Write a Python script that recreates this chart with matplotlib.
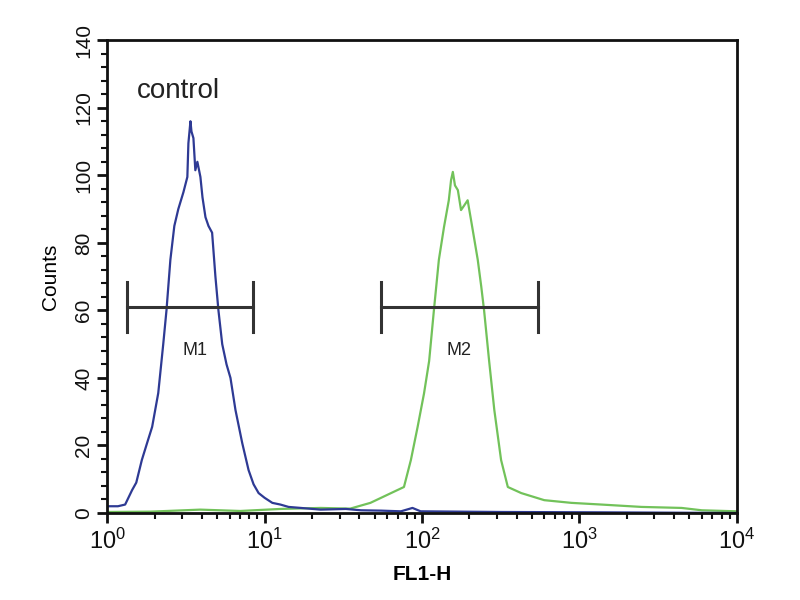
import matplotlib
matplotlib.use("Agg")
import matplotlib.pyplot as plt
from matplotlib.ticker import MultipleLocator, LogLocator, NullFormatter

plt.rcParams["font.family"] = ["Liberation Sans", "DejaVu Sans"]
plt.rcParams["mathtext.default"] = "regular"

# control histogram (blue), FL1-H value -> counts
blue_x = [1.0, 1.17, 1.30, 1.44, 1.53, 1.66, 1.80, 1.93, 2.11, 2.27, 2.38, 2.52,
          2.67, 2.83, 3.05, 3.23, 3.28, 3.38, 3.43, 3.53, 3.63, 3.74, 3.91, 4.03,
          4.21, 4.40, 4.64, 4.87, 5.09, 5.38, 5.73, 6.07, 6.53, 7.21, 7.91, 8.51,
          9.16, 10.0, 11.2, 12.6, 14.2, 17.0, 22.7, 32.8, 41.0, 55.0, 73.5, 87.0,
          98.0, 320.0, 1380.0, 10000.0]
blue_y = [2, 2, 2.5, 6.8, 9, 15.7, 21, 25.5, 35.5, 50, 60, 75,
          85, 90, 95, 99.5, 109.5, 116, 113, 111, 101.5, 104, 99.5, 93.5,
          87.6, 85, 83, 70, 60, 50, 44, 40, 30.5, 20.7, 12.7, 8.5,
          5.9, 4.5, 3, 2.5, 1.8, 1.5, 1.0, 1.2, 0.8, 0.7, 0.5, 1.5,
          0.5, 0.3, 0.2, 0]

# antibody histogram (green)
green_x = [1.0, 1.88, 3.9, 7.0, 12.6, 22.7, 35.0, 47.0, 63.6, 76.8, 85.0, 93.8,
           103, 111, 119, 128, 138, 148, 153, 157, 162, 169, 177, 185, 195, 205,
           215, 226, 238, 248, 267, 288, 318, 351, 427, 598, 890, 1380, 2480,
           4460, 6000, 10000]
green_y = [0.3, 0.4, 1.0, 0.6, 1.2, 1.5, 1.3, 3, 5.9, 7.7, 15.7, 25.5,
           35.4, 45, 60, 75, 84.7, 92.6, 98.6, 101, 97, 95.6, 89.7, 91, 92.6, 86.7,
           81, 75, 67, 60, 45, 30.5, 15.7, 7.7, 5.9, 3.8, 3, 2.5, 1.8,
           1.5, 0.8, 0.5]

# marker gates
gate_names = ["M1", "M2"]
gate_lo = [1.34, 54.8]
gate_hi = [8.5, 548]
gate_level = 61
gate_label_x = [3.6, 172]

fig = plt.figure(figsize=(8, 6), dpi=100)
ax = fig.add_axes([0.134, 0.145, 0.787, 0.788])

ax.plot(green_x, green_y, color="#72c25a", lw=1.6)
ax.plot(blue_x, blue_y, color="#2e3a94", lw=1.6)

for name, lo, hi, lx in zip(gate_names, gate_lo, gate_hi, gate_label_x):
    ax.plot([lo, hi], [gate_level, gate_level], color="#333333", lw=2.2)
    ax.plot([lo, lo], [gate_level - 7.5, gate_level + 7.5], color="#333333", lw=2.2)
    ax.plot([hi, hi], [gate_level - 7.5, gate_level + 7.5], color="#333333", lw=2.2)
    ax.text(lx, 48, name, ha="center", va="center", fontsize=13, color="#222222")

ax.text(1.55, 125, "control", ha="left", va="center", fontsize=20, color="#222222")

ax.set_xscale("log")
ax.set_xlim(1, 10000)
ax.set_ylim(0, 140)
ax.set_xticks([1, 10, 100, 1000, 10000])
ax.set_xticklabels(["$10^{0}$", "$10^{1}$", "$10^{2}$", "$10^{3}$", "$10^{4}$"], fontsize=17)
ax.xaxis.set_minor_locator(LogLocator(base=10, subs=range(2, 10)))
ax.xaxis.set_minor_formatter(NullFormatter())
ax.yaxis.set_major_locator(MultipleLocator(20))
ax.yaxis.set_minor_locator(MultipleLocator(4))
for lbl in ax.get_yticklabels():
    lbl.set_rotation(90)
    lbl.set_va("center")
    lbl.set_fontsize(15)

ax.tick_params(axis="both", which="major", direction="out", length=7, width=2, colors="#111111")
ax.tick_params(axis="both", which="minor", direction="out", length=4, width=1.5, colors="#111111")
ax.tick_params(axis="y", pad=3)
ax.tick_params(axis="x", pad=4)
for sp in ax.spines.values():
    sp.set_linewidth(2)
    sp.set_color("#111111")

ax.set_xlabel("FL1-H", fontsize=15, fontweight="bold", labelpad=8)
ax.set_ylabel("Counts", fontsize=15, labelpad=10)

fig.savefig("out.png", dpi=100)
